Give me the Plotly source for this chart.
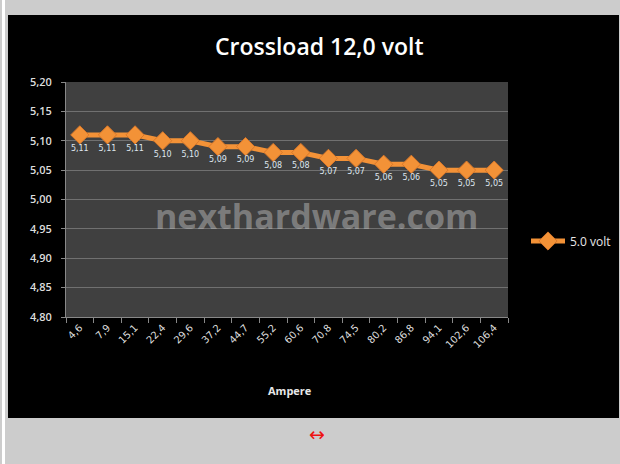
import plotly.graph_objects as go

categories = ["4,6", "7,9", "15,1", "22,4", "29,6", "37,2", "44,7", "55,2",
              "60,6", "70,8", "74,5", "80,2", "86,8", "94,1", "102,6", "106,4"]
volt_5 = [5.11, 5.11, 5.11, 5.10, 5.10, 5.09, 5.09, 5.08,
          5.08, 5.07, 5.07, 5.06, 5.06, 5.05, 5.05, 5.05]
series_name = "5.0 volt"
title_text = "Crossload 12,0 volt"
x_title = "Ampere"

W, H = 620, 464
def px(x):
    return x / W
def py(y):
    return 1 - y / H

orange = "#f39237"

fig = go.Figure()
fig.add_trace(go.Scatter(
    x=categories, y=volt_5, name=series_name,
    mode="lines+markers+text",
    line=dict(color=orange, width=5),
    marker=dict(symbol="diamond", size=14, color=orange,
                line=dict(color="#d9782a", width=1)),
    texttemplate="%{y:.2f}", textposition="bottom center",
    textfont=dict(family="DejaVu Sans", size=8, color="#dfe6ee"),
))

fig.update_layout(
    width=W, height=H,
    margin=dict(l=0, r=0, t=0, b=0, pad=0, autoexpand=False),
    paper_bgcolor="#cccccc",
    plot_bgcolor="#404040",
    separators=",.",
    showlegend=True,
    legend=dict(x=px(526), y=py(241), xanchor="left", yanchor="middle",
                bgcolor="rgba(0,0,0,0)",
                font=dict(family="Open Sans", size=12, color="#e8e8e8"),
                itemwidth=34, tracegroupgap=0),
    shapes=[
        dict(type="rect", xref="paper", yref="paper", x0=px(2), x1=px(5),
             y0=0, y1=1, fillcolor="#ffffff", line=dict(width=0), layer="below"),
        dict(type="rect", xref="paper", yref="paper", x0=px(8), x1=px(619),
             y0=py(418), y1=py(15), fillcolor="#000000", line=dict(width=0), layer="below"),
        dict(type="rect", xref="x domain", yref="y domain", x0=0, x1=1, y0=0, y1=1,
             fillcolor="#404040", line=dict(width=0), layer="below"),
    ],
    annotations=[
        dict(text=title_text, xref="paper", yref="paper", x=px(319), y=py(46),
             showarrow=False, xanchor="center", yanchor="middle",
             font=dict(family="Open Sans", size=23, weight=600, color="#ffffff")),
        dict(text="<b>" + x_title + "</b>", xref="paper", yref="paper", x=px(290), y=py(390),
             showarrow=False, xanchor="center", yanchor="middle",
             font=dict(family="Open Sans", size=11, color="#e8e8e8")),
        dict(text="<b>nexthardware.com</b>", xref="paper", yref="paper", x=px(317), y=py(216),
             showarrow=False, xanchor="center", yanchor="middle",
             font=dict(family="Open Sans", size=34, color="rgba(200,200,200,0.45)")),
        dict(text="↔", xref="paper", yref="paper", x=px(317), y=py(434),
             showarrow=False, xanchor="center", yanchor="middle",
             font=dict(family="DejaVu Sans", size=19, color="#ee1111")),
    ],
    xaxis=dict(
        domain=[px(66), px(508)],
        type="category", range=[-0.5, 15.5],
        tickson="boundaries", ticks="outside", ticklen=5, tickcolor="#888888",
        showgrid=False, showline=True, linecolor="#888888", linewidth=1,
        tickangle=-45, automargin=False,
        tickfont=dict(family="DejaVu Sans", size=10, color="#dddddd"),
    ),
    yaxis=dict(
        domain=[py(317), py(82)],
        range=[4.80, 5.20], dtick=0.05, tick0=4.80, tickformat=".2f",
        ticks="outside", ticklen=4, tickcolor="#888888",
        showgrid=True, gridcolor="#707070", gridwidth=1,
        showline=True, linecolor="#888888", linewidth=1,
        zeroline=False, automargin=False, ticklabelstandoff=7,
        tickfont=dict(family="Open Sans", size=11, weight=600, color="#dddddd"),
    ),
)

fig.write_html("out.html",
               config={"displayModeBar": False},
               post_script="document.body.style.margin='0';document.body.style.overflow='hidden';")
